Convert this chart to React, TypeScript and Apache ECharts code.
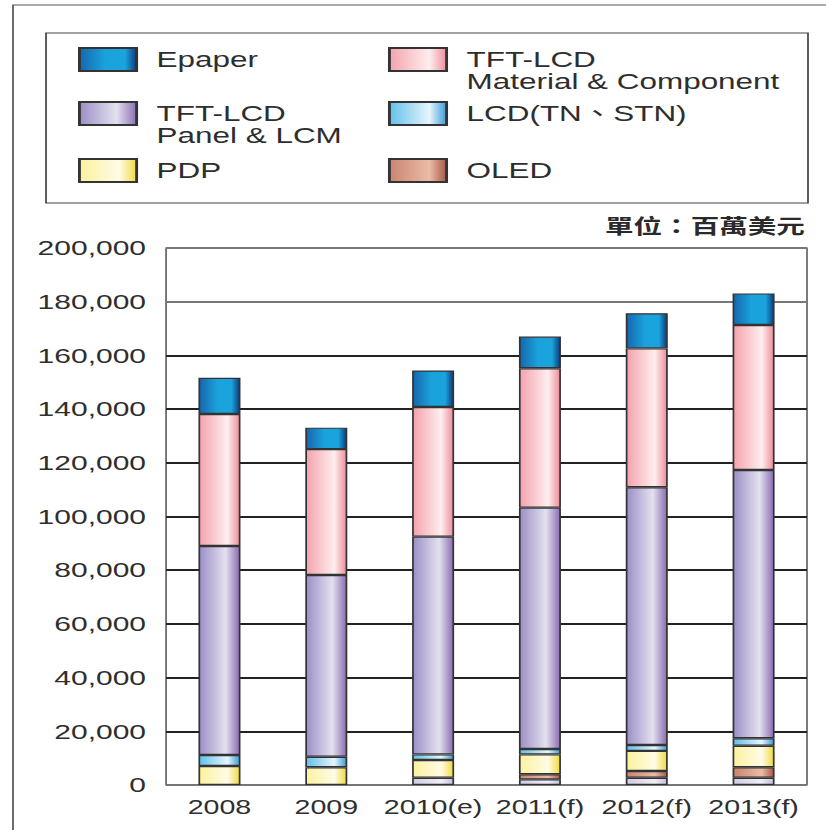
import React, { useEffect, useRef } from "react";
import * as echarts from "echarts";

const categories = ["2008", "2009", "2010(e)", "2011(f)", "2012(f)", "2013(f)"];
const baseValues = [null, null, 2700, 2100, 2700, 2700];
const oledValues = [null, null, null, 1900, 2500, 3900];
const pdpValues = [7100, 6600, 6600, 7400, 7500, 8000];
const lcdValues = [4100, 3900, 2100, 2000, 2200, 2800];
const panelValues = [77800, 67700, 81100, 89900, 96000, 99900];
const materialValues = [49200, 46900, 48300, 51900, 51700, 54000];
const epaperValues = [13500, 8000, 13600, 11800, 13100, 11800];
const yTicks = { min: 0, max: 200000, interval: 20000 };

const BASE_W = 578;
const H = 830;
const S = 826 / BASE_W;
const FONT = "'Liberation Sans', Arial, 'Noto Sans CJK TC', sans-serif";

function grad(stops: [number, string][]) {
  return new echarts.graphic.LinearGradient(
    0, 0, 1, 0,
    stops.map(([offset, color]) => ({ offset, color }))
  );
}

export default function App() {
  const ref = useRef<HTMLDivElement>(null);

  useEffect(() => {
    if (!ref.current) return;
    const chart = echarts.init(ref.current, undefined, { renderer: "svg" });

    const N_EP = "Epaper";
    const N_MAT = "TFT-LCD\nMaterial & Component";
    const N_PAN = "TFT-LCD\nPanel & LCM";
    const N_LCD = "LCD(TN、STN)";
    const N_PDP = "PDP";
    const N_OLED = "OLED";

    const mk = (name: string, data: (number | null)[], color: any) => ({
      name,
      type: "bar",
      stack: "total",
      barWidth: 29.4,
      data,
      itemStyle: { color, borderColor: "#333", borderWidth: 1.2 },
      emphasis: { disabled: true },
    });

    const legendBase = {
      orient: "vertical",
      padding: 0,
      itemWidth: 40,
      itemHeight: 23,
      icon: "rect",
      selectedMode: false,
    };
    const ts1 = { fontSize: 22, color: "#2e2e2e", fontFamily: FONT, lineHeight: 22, padding: [0, 0, 0, 9] };
    const twoLine = (name: string) => "\n" + name;

    chart.setOption({
      animation: false,
      backgroundColor: "#ffffff",
      title: {
        text: "單位：百萬美元",
        right: 14.7,
        top: 215,
        padding: 0,
        textStyle: { fontSize: 20, fontWeight: "bold", color: "#2a2a2a", fontFamily: "'Noto Sans CJK TC', sans-serif" },
      },
      legend: [
        { ...legendBase, data: [N_EP], left: 54.6, top: 47, textStyle: ts1 },
        { ...legendBase, data: [N_PAN], left: 54.6, top: 80.5, textStyle: ts1, formatter: twoLine },
        { ...legendBase, data: [N_PDP], left: 54.6, top: 158, textStyle: ts1 },
        { ...legendBase, data: [N_MAT], left: 271.5, top: 26.5, textStyle: ts1, formatter: twoLine },
        { ...legendBase, data: [N_LCD], left: 271.5, top: 101, textStyle: ts1 },
        { ...legendBase, data: [N_OLED], left: 271.5, top: 158, textStyle: ts1 },
      ],
      graphic: [
        {
          type: "rect",
          z: -10,
          shape: { x: 9.1, y: 5, width: 1000, height: 1000 },
          style: { fill: "none", stroke: "#555", lineWidth: 1.2 },
          silent: true,
        },
        {
          type: "rect",
          z: -10,
          shape: { x: 32.2, y: 33, width: 533.2, height: 170 },
          style: { fill: "none", stroke: "#444", lineWidth: 1.2 },
          silent: true,
        },
      ],
      grid: {
        left: 116.2,
        right: 13.3,
        top: 248,
        bottom: 45,
        show: true,
        borderColor: "#666",
        borderWidth: 1.2,
        backgroundColor: "transparent",
      },
      xAxis: {
        type: "category",
        data: categories,
        axisLine: { show: false },
        axisTick: { show: false },
        axisLabel: { interval: 0, fontSize: 20, color: "#2e2e2e", fontFamily: FONT, margin: 12 },
      },
      yAxis: {
        type: "value",
        min: yTicks.min,
        max: yTicks.max,
        interval: yTicks.interval,
        axisLine: { show: false },
        axisTick: { show: false },
        axisLabel: {
          fontSize: 21,
          color: "#2e2e2e",
          fontFamily: FONT,
          margin: 14,
          formatter: (v: number) => v.toLocaleString("en-US"),
        },
        splitLine: {
          show: true,
          lineStyle: {
            width: 1.8,
            color: ["#777", "#222", "#222", "#222", "#222", "#222", "#222", "#222", "#222", "#777", "#777"],
          },
        },
      },
      series: [
        mk("base", baseValues, grad([[0, "#cfcbe4"], [0.7, "#efeef7"], [1, "#c2bcdc"]])),
        mk(N_OLED, oledValues, grad([[0, "#c98470"], [0.7, "#eabba6"], [1, "#a65848"]])),
        mk(N_PDP, pdpValues, grad([[0, "#fbf29d"], [0.7, "#fffbe6"], [1, "#f0da40"]])),
        mk(N_LCD, lcdValues, grad([[0, "#62bfea"], [0.7, "#e6f5fc"], [1, "#3a9bd6"]])),
        mk(N_PAN, panelValues, grad([[0, "#9c8ec6"], [0.65, "#e3e1ef"], [1, "#8a6db2"]])),
        mk(N_MAT, materialValues, grad([[0, "#f4a2ac"], [0.7, "#fdeeee"], [1, "#ee8d9b"]])),
        mk(N_EP, epaperValues, grad([[0, "#1766ad"], [0.45, "#1aa2dc"], [0.8, "#1aa3dd"], [1, "#0c3c7c"]])),
      ],
    });

    return () => chart.dispose();
  }, []);

  return (
    <div
      style={{
        position: "fixed",
        left: 0,
        top: 0,
        width: BASE_W,
        height: H,
        transform: `scaleX(${S})`,
        transformOrigin: "0 0",
        background: "#fff",
      }}
    >
      <div ref={ref} style={{ width: BASE_W, height: H }} />
    </div>
  );
}
